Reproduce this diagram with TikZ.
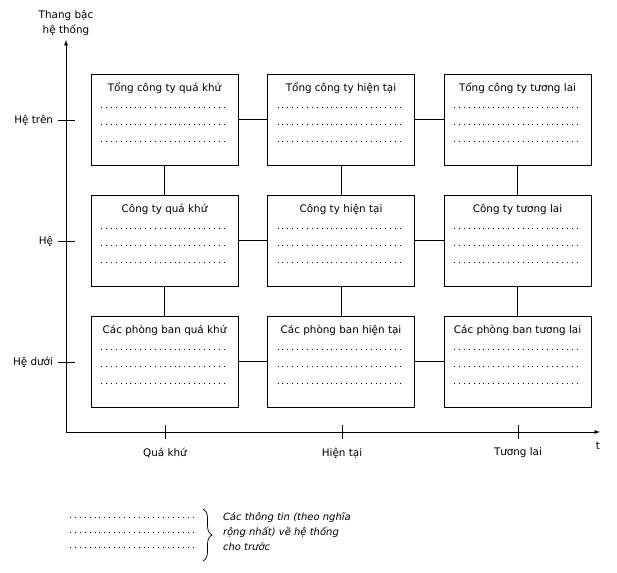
\documentclass[tikz,border=0pt]{standalone}
\usepackage{fontspec}
\setmainfont{DejaVu Sans}
\usetikzlibrary{decorations.pathreplacing}

\begin{document}
\begin{tikzpicture}[x=1pt, y=-1pt]
\tikzset{ >=latex, inner sep=0pt, outer sep=0pt, font=\fontsize{10.4}{15.5}\selectfont }
\tikzset{ hop/.style={draw, line width=0.9pt, minimum width=147pt, minimum height=91pt},
          dots/.style={line width=0.7pt, dash pattern=on 0.8pt off 4.1pt},
          link/.style={line width=0.9pt} }
\useasboundingbox (0,0) rectangle (617,572);
%\draw [lightgray, dashed](0,0) grid (617,572);

% truc
\coordinate (O) at (66,432);
\coordinate (Y) at (66,40);
\coordinate (X) at (600,432);
\draw [->, link] (O) -- (Y);
\draw [->, link] (O) -- (X);

\draw [link] (58,120) -- (75,120);
\draw [link] (58,241) -- (75,241);
\draw [link] (58,362) -- (75,362);
\draw [link] (165,425) -- (165,439);
\draw [link] (342,425) -- (342,439);
\draw [link] (518,425) -- (518,439);

% cac hop
\node [hop] (TQK) at (164.5,119.5) {};
\node [hop] (THT) at (341,119.5) {};
\node [hop] (TTL) at (517.5,119.5) {};
\node [hop] (CQK) at (164.5,240.5) {};
\node [hop] (CHT) at (341,240.5) {};
\node [hop] (CTL) at (517.5,240.5) {};
\node [hop] (PQK) at (164.5,361.5) {};
\node [hop] (PHT) at (341,361.5) {};
\node [hop] (PTL) at (517.5,361.5) {};

\node (TQKt) at ([yshift=-14.5pt]TQK.north) {Tổng công ty quá khứ};
\node (THTt) at ([yshift=-14.5pt]THT.north) {Tổng công ty hiện tại};
\node (TTLt) at ([yshift=-14.5pt]TTL.north) {Tổng công ty tương lai};
\node (CQKt) at ([yshift=-14.5pt]CQK.north) {Công ty quá khứ};
\node (CHTt) at ([yshift=-14.5pt]CHT.north) {Công ty hiện tại};
\node (CTLt) at ([yshift=-14.5pt]CTL.north) {Công ty tương lai};
\node (PQKt) at ([yshift=-14.5pt]PQK.north) {Các phòng ban quá khứ};
\node (PHTt) at ([yshift=-14.5pt]PHT.north) {Các phòng ban hiện tại};
\node (PTLt) at ([yshift=-14.5pt]PTL.north) {Các phòng ban tương lai};

\foreach \b in {TQK,THT,TTL,CQK,CHT,CTL,PQK,PHT,PTL}
  \foreach \d in {33,50,67}
    \draw [dots] ([xshift=10pt,yshift=-\d pt]\b.north west) -- ([xshift=-10pt,yshift=-\d pt]\b.north east);

\draw [link] (TQK) -- (THT);
\draw [link] (THT) -- (TTL);
\draw [link] (CQK) -- (CHT);
\draw [link] (CHT) -- (CTL);
\draw [link] (PQK) -- (PHT);
\draw [link] (PHT) -- (PTL);
\draw [link] (TQK) -- (CQK);
\draw [link] (CQK) -- (PQK);
\draw [link] (THT) -- (CHT);
\draw [link] (CHT) -- (PHT);
\draw [link] (TTL) -- (CTL);
\draw [link] (CTL) -- (PTL);

% nhan
\node [align=center] (TB) at (66,23) {Thang bậc\\hệ thống};
\node [anchor=east] (HTr) at (53,120) {Hệ trên};
\node [anchor=east] (He) at (53,241) {Hệ};
\node [anchor=east] (HDu) at (53,362) {Hệ dưới};
\node (QK) at (165,453) {Quá khứ};
\node (HT) at (342,453) {Hiện tại};
\node (TL) at (518,453) {Tương lai};
\node (t) at (598,446) {t};

% chu thich
\draw [dots] (70,517) -- (197,517);
\draw [dots] (70,532) -- (197,532);
\draw [dots] (70,547) -- (197,547);
\coordinate (BA) at (203,509);
\coordinate (BB) at (203,561);
\draw [decorate, decoration={brace, amplitude=9pt}, line width=0.7pt] (BA) -- (BB);
\node [anchor=west, align=left, font=\itshape\fontsize{10}{15}\selectfont] (INFO) at (223,532) {Các thông tin (theo nghĩa\\rộng nhất) về hệ thống\\cho trước};

\end{tikzpicture}
\end{document}
